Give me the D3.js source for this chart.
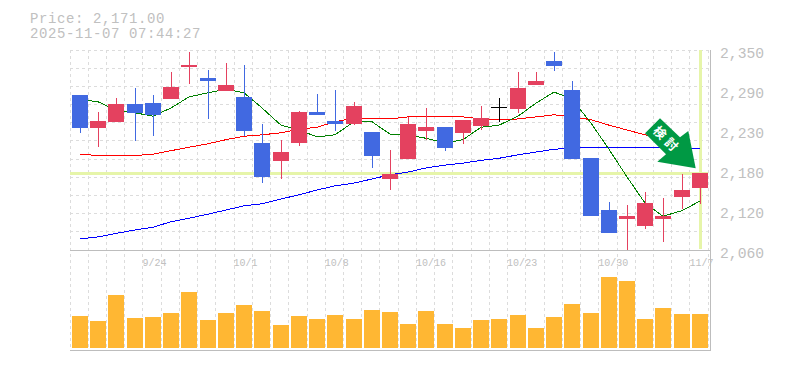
<!DOCTYPE html>
<html><head><meta charset="utf-8">
<style>html,body{margin:0;padding:0;background:#fff}svg{display:block}</style>
<script src="https://cdn.jsdelivr.net/npm/d3@7"></script></head>
<body><svg id="c" width="785" height="370"></svg>
<script>
const open_ = [2285,2237,2246,2272,2273,2279,2325,2309,2291,2282,2215,2189,2215,2260,2247,2243,2231,2163,2192,2233,2238,2230,2240,2266,2264,2299,2334,2292,2193,2118,2105,2095,2105,2137,2150];
const high_ = [2285,2260,2280,2295,2285,2318,2347,2321,2331,2328,2243,2220,2262,2286,2292,2275,2231,2205,2253,2266,2238,2249,2269,2280,2318,2318,2347,2305,2193,2130,2125,2144,2135,2170,2171];
const low_  = [2230,2209,2246,2218,2225,2279,2301,2250,2291,2225,2157,2163,2211,2256,2233,2241,2179,2147,2192,2220,2204,2214,2234,2246,2259,2299,2320,2192,2109,2085,2060,2090,2072,2119,2127];
const close_= [2237,2247,2272,2259,2256,2296,2328,2305,2299,2233,2166,2202,2260,2256,2243,2269,2196,2170,2243,2238,2208,2249,2251,2266,2295,2305,2327,2192,2109,2085,2109,2128,2109,2147,2171];
const volume= [32,27,53,30,31,35,56,28,35,43,37,23,32,29,33,29,38,36,24,37,24,20,28,29,33,20,31,44,35,71,67,29,40,34,34];
const maShort=[2278,2275,2263,2259,2254,2266,2282,2288,2293,2288,2266,2241,2234,2224,2227,2246,2246,2228,2227,2222,2215,2220,2238,2241,2254,2273,2289,2279,2244,2206,2166,2128,2109,2117,2131];
const maMid  =[2199,2197,2197,2197,2199,2204,2209,2214,2220,2225,2227,2230,2235,2238,2246,2251,2251,2250,2253,2254,2254,2253,2250,2249,2250,2253,2256,2253,2249,2241,2234,2227,2222,2218];
const maLong =[2076,2079,2084,2089,2093,2101,2106,2112,2118,2124,2127,2134,2140,2147,2153,2157,2163,2169,2173,2179,2183,2186,2190,2193,2198,2202,2206,2208,2208,2208,2208,2208,2208,2208,2207];
const priceTicks=[2350,2292,2234,2176,2118,2060];
const priceTickLabels=["2,350","2,290","2,230","2,180","2,120","2,060"];
const dateTickIdx=[4,9,14,19,24,29,34];
const dateTickLabels=["9/24","10/1","10/8","10/16","10/23","10/30","11/7"];
const currentPrice=2171;
const titleLines=["Price: 2,171.00","2025-11-07 07:44:27"];
const arrowLabel="検討";

const FONT='"Liberation Mono","DejaVu Sans Mono",monospace';
const L=70,R=708.2,T=50,B=250,VT=250,VB=348,VAXIS=350;
const idx=d3.range(volume.length);
const x=d3.scaleBand().domain(idx).range([L,R]);
const y=d3.scaleLinear().domain([2060,2350]).range([B,T]);
const yv=d3.scaleLinear().domain([0,98]).range([VB,VT]);
const cx=i=>Math.round(x(i)+10);
const svg=d3.select("#c");

// grid
const grid=svg.append("g").attr("stroke","#dcdcdc").attr("stroke-dasharray","3,3").attr("shape-rendering","crispEdges");
d3.range(0,36).forEach(k=>{
  const px=L+k*x.step();
  grid.append("line").attr("x1",px).attr("x2",px).attr("y1",T).attr("y2",VAXIS);
});
d3.range(0,12).forEach(k=>{
  const py=y(2060+k*(290/11));
  grid.append("line").attr("x1",L).attr("x2",R+1).attr("y1",py).attr("y2",py);
});

// current markers
svg.append("rect").attr("x",L).attr("width",R-L).attr("y",y(currentPrice)-1.5).attr("height",3.5).attr("fill","#e6f5a9").attr("shape-rendering","crispEdges");
svg.append("rect").attr("x",cx(34)-1).attr("width",3).attr("y",T).attr("height",199).attr("fill","#e6f5a9").attr("shape-rendering","crispEdges");

// moving averages
const line=d3.line().x((d,i)=>cx(i)).y(d=>y(d));
[[maLong,"#0000ff"],[maMid,"#ff0000"],[maShort,"#008000"]].forEach(([s,c])=>{
  svg.append("path").attr("d",line(s)).attr("fill","none").attr("stroke",c).attr("stroke-width",1).attr("shape-rendering","crispEdges");
});

// candles
const up="#e4415f",down="#4169e1";
const gc=svg.append("g").attr("shape-rendering","crispEdges");
idx.forEach(i=>{
  const o=open_[i],c=close_[i];
  const col=o===c?"#000":(c>o?up:down);
  gc.append("line").attr("x1",cx(i)+.5).attr("x2",cx(i)+.5).attr("y1",y(high_[i])).attr("y2",y(low_[i])).attr("stroke",col);
  if(o===c){
    gc.append("line").attr("x1",cx(i)-8).attr("x2",cx(i)+8).attr("y1",y(o)).attr("y2",y(o)).attr("stroke",col);
  }else{
    gc.append("rect").attr("x",cx(i)-8).attr("width",16).attr("y",y(Math.max(o,c))).attr("height",y(Math.min(o,c))-y(Math.max(o,c))).attr("fill",col);
  }
});

// volume
svg.append("g").attr("shape-rendering","crispEdges").selectAll("rect").data(volume).join("rect")
 .attr("x",(d,i)=>cx(i)-8).attr("width",16).attr("y",d=>yv(d)).attr("height",d=>yv(0)-yv(d)).attr("fill","#ffb733");

// frame
const frame=svg.append("g").attr("stroke","#bdbdbd").attr("shape-rendering","crispEdges");
frame.append("line").attr("x1",L).attr("x2",711).attr("y1",B).attr("y2",B);
frame.append("line").attr("x1",L).attr("x2",711).attr("y1",VAXIS).attr("y2",VAXIS);
frame.append("line").attr("x1",710.5).attr("x2",710.5).attr("y1",T).attr("y2",VAXIS);

// axes
const ay=d3.axisRight(y).tickValues(priceTicks).tickSize(0).tickPadding(0).tickFormat((d,i)=>priceTickLabels[i]);
const gy=svg.append("g").attr("transform","translate(720,0)").call(ay);
gy.select(".domain").remove();
gy.selectAll("text").attr("x",0).attr("dy",null).attr("y",7.5).attr("fill","#c0c0c0").style("font-family",FONT).style("font-size","14.7px");

const ax=d3.axisBottom(x).tickValues(dateTickIdx).tickSize(0).tickPadding(0).tickFormat((d,i)=>dateTickLabels[i]);
const gx=svg.append("g").attr("transform","translate(0,250)").call(ax);
gx.select(".domain").remove();
gx.selectAll(".tick").attr("transform",d=>`translate(${x(d)-.5},0)`);
gx.selectAll("text").attr("y",16).attr("dy",null).attr("text-anchor","start").attr("fill","#c0c0c0").style("font-family",FONT).style("font-size","10px");

// title
titleLines.forEach((t,i)=>{
  svg.append("text").attr("x",30).attr("y",[23,38][i]).attr("fill","#c0c0c0").style("font-family",FONT).style("font-size","14px").style("letter-spacing","0.6px").text(t);
});

// arrow
svg.append("polygon").attr("fill","#009944")
 .attr("points",[[660,118.3],[680,137.3],[688.3,131],[695.7,168.3],[657.3,161.7],[666,154.3],[645,133.3]].map(p=>p.join(",")).join(" "));
svg.append("text").attr("transform","translate(667,140) rotate(45)").attr("text-anchor","middle").attr("dy","0.36em")
 .attr("fill","#fff").style("font-family",'"Noto Sans CJK JP"').style("font-weight","700").style("font-size","12.5px").style("letter-spacing","4px").text(arrowLabel);
</script></body></html>
